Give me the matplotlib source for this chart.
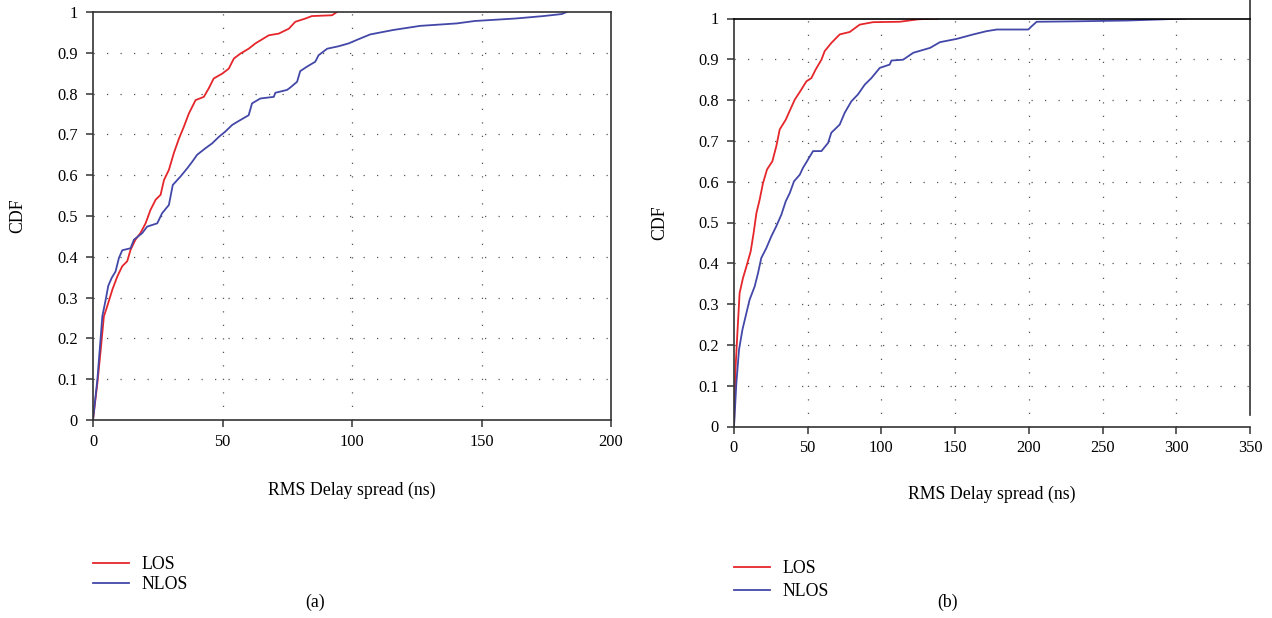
import matplotlib
matplotlib.use("Agg")
import matplotlib.pyplot as plt
import numpy as np

plt.rcParams['font.family'] = ['Liberation Serif', 'DejaVu Serif']

# ---- data ----
# Panel (a)
a_los_x = [0, 1.7, 3.0, 4.2, 5.5, 7.5, 9.4, 11.3, 13.2, 14.5, 16.4, 18.3, 20.3, 22.2, 24.2, 26.1,
           27.4, 29.3, 31.2, 33.2, 35.1, 37.0, 39.6, 42.8, 44.7, 46.6, 49.9, 52.4, 54.4, 56.9,
           60.1, 62.7, 67.9, 71.7, 75.6, 78.1, 82.0, 84.5, 92.3, 94.2]
a_los_y = [0, 0.091, 0.173, 0.254, 0.279, 0.32, 0.352, 0.377, 0.389, 0.417, 0.442, 0.458, 0.482,
           0.515, 0.54, 0.552, 0.588, 0.613, 0.654, 0.69, 0.719, 0.751, 0.784, 0.792, 0.813, 0.837,
           0.849, 0.861, 0.886, 0.898, 0.91, 0.923, 0.943, 0.947, 0.959, 0.976, 0.984, 0.99, 0.992, 1.0]

a_nlos_x = [0, 1.7, 3.6, 4.9, 5.9, 7.2, 8.7, 10.0, 11.3, 14.5, 15.8, 19.0, 20.9, 24.8, 26.7, 29.3,
            30.8, 33.8, 36.4, 38.3, 40.2, 43.4, 46.0, 48.6, 51.1, 53.7, 56.3, 60.1, 61.4, 64.6,
            69.8, 70.4, 74.9, 76.2, 78.8, 80.0, 82.6, 85.8, 87.1, 90.4, 94.8, 98.7, 102.4, 107.0,
            116.0, 126.3, 140.4, 147.5, 163.0, 173.9, 181.0, 182.9]
a_nlos_y = [0, 0.1, 0.254, 0.295, 0.329, 0.348, 0.364, 0.397, 0.416, 0.421, 0.442, 0.458, 0.474,
            0.482, 0.507, 0.527, 0.576, 0.597, 0.617, 0.633, 0.65, 0.666, 0.678, 0.694, 0.707,
            0.723, 0.733, 0.747, 0.776, 0.788, 0.792, 0.802, 0.809, 0.815, 0.829, 0.855, 0.866,
            0.878, 0.894, 0.91, 0.916, 0.923, 0.933, 0.945, 0.956, 0.966, 0.972, 0.978, 0.984,
            0.99, 0.995, 1.0]

# Panel (b)
b_los_x = [0, 1.1, 2.3, 3.8, 6.1, 8.4, 11.3, 13.3, 15.2, 17.4, 19.7, 22.4, 26.0, 28.7, 31.0, 35.1,
           38.2, 41.2, 45.7, 49.1, 52.5, 55.4, 59.3, 61.5, 66.0, 71.7, 78.5, 85.3, 94.3, 112.4,
           124.9, 138.4]
b_los_y = [0, 0.147, 0.229, 0.327, 0.364, 0.392, 0.429, 0.474, 0.523, 0.556, 0.597, 0.63, 0.65,
           0.687, 0.728, 0.752, 0.777, 0.801, 0.826, 0.846, 0.854, 0.875, 0.899, 0.92, 0.94,
           0.961, 0.967, 0.985, 0.991, 0.992, 0.998, 1.0]

b_nlos_x = [0, 1.6, 3.4, 5.7, 8.4, 10.6, 14.0, 16.3, 18.5, 21.9, 25.3, 28.7, 32.1, 35.1, 37.8,
            40.7, 44.6, 46.8, 49.5, 53.6, 59.3, 63.8, 66.0, 71.7, 75.1, 79.6, 84.1, 88.7, 93.2,
            98.9, 105.6, 106.8, 114.7, 121.6, 133.0, 139.7, 151.0, 162.3, 171.4, 178.2, 199.6,
            201.9, 205.3, 230.2, 266.4, 291.2, 305.9]
b_nlos_y = [0, 0.106, 0.188, 0.237, 0.278, 0.311, 0.343, 0.376, 0.413, 0.437, 0.466, 0.491,
            0.519, 0.552, 0.572, 0.601, 0.617, 0.634, 0.65, 0.675, 0.675, 0.695, 0.72, 0.74,
            0.769, 0.797, 0.814, 0.838, 0.854, 0.879, 0.887, 0.897, 0.899, 0.916, 0.928, 0.942,
            0.95, 0.961, 0.969, 0.973, 0.973, 0.981, 0.992, 0.993, 0.995, 0.998, 1.0]

y_ticks = [0, 0.1, 0.2, 0.3, 0.4, 0.5, 0.6, 0.7, 0.8, 0.9, 1]
y_ticklabels = ['0', '0.1', '0.2', '0.3', '0.4', '0.5', '0.6', '0.7', '0.8', '0.9', '1']
a_xticks = [0, 50, 100, 150, 200]
b_xticks = [0, 50, 100, 150, 200, 250, 300, 350]
series_labels = ['LOS', 'NLOS']
xlabel = 'RMS Delay spread (ns)'
ylabel = 'CDF'
panel_labels = ['(a)', '(b)']

RED = '#e5262b'
BLUE = '#4348a8'
SPINE = '#333333'
FS_TICK = 11.8
FS = 12.8

W, H = 1272, 618
fig = plt.figure(figsize=(W / 100, H / 100), dpi=100)


def px_axes(l, r, t, b):
    return fig.add_axes([l / W, (H - b) / H, (r - l) / W, (b - t) / H])


def style(ax, xticks, xmax, grid_x):
    ax.set_xlim(0, xmax)
    ax.set_ylim(0, 1)
    ax.set_xticks(xticks)
    ax.set_xticklabels([str(t) for t in xticks])
    ax.set_yticks(y_ticks)
    ax.set_yticklabels(y_ticklabels)
    ax.tick_params(axis='both', direction='out', length=5, width=1.1, color=SPINE,
                   labelsize=FS_TICK, top=False, right=False)
    ax.tick_params(axis='y', pad=6)
    ax.tick_params(axis='x', pad=5)
    for s in ax.spines.values():
        s.set_color(SPINE)
        s.set_linewidth(1.2)
    for gx in grid_x:
        ax.axvline(gx, color='#555555', lw=0.9, ls=(0, (1, 9.8)), zorder=0)
    for gy in y_ticks[1:-1]:
        ax.axhline(gy, color='#555555', lw=0.9, ls=(0, (1, 9.8)), zorder=0)


# Panel (a)
axa = px_axes(93, 611, 12, 420)
axa.plot(a_los_x, a_los_y, color=RED, lw=1.3, label=series_labels[0])
axa.plot(a_nlos_x, a_nlos_y, color=BLUE, lw=1.3, label=series_labels[1])
style(axa, a_xticks, 200, [50, 100, 150])

# Panel (b)
axb = px_axes(734, 1250, 18.5, 426.5)
axb.plot(b_los_x, b_los_y, color=RED, lw=1.3, label=series_labels[0])
axb.plot(b_nlos_x, b_nlos_y, color=BLUE, lw=1.3, label=series_labels[1])
style(axb, b_xticks, 350, [50, 100, 150, 200, 250, 300])
axb.spines['right'].set_bounds(0.027, 1.045)
axb.spines['right'].set_clip_on(False)
axb.spines['top'].set_color('black')

# axis labels, legends, panel labels
for ax, cx, ly, cdfx, legx, legy, lsp, pl, pcx in [
        (axa, 352, 490, 18, 93, 556, 0.18, panel_labels[0], 315),
        (axb, 992, 494, 660, 734, 560, 0.35, panel_labels[1], 948)]:
    fig.text(cx / W, 1 - ly / H, xlabel, ha='center', va='center', fontsize=FS)
    pos = ax.get_position()
    fig.text(cdfx / W, (pos.y0 + pos.y1) / 2, ylabel, rotation=90, ha='center', va='center',
             fontsize=FS)
    ax.legend(loc='upper left', bbox_to_anchor=(legx / W, 1 - legy / H),
              bbox_transform=fig.transFigure, frameon=False, fontsize=FS,
              handlelength=2.0, handletextpad=0.75, labelspacing=lsp, borderpad=0,
              borderaxespad=0)
    fig.text(pcx / W, 1 - 602 / H, pl, ha='center', va='center', fontsize=FS)

fig.savefig('out.png', dpi=100)
